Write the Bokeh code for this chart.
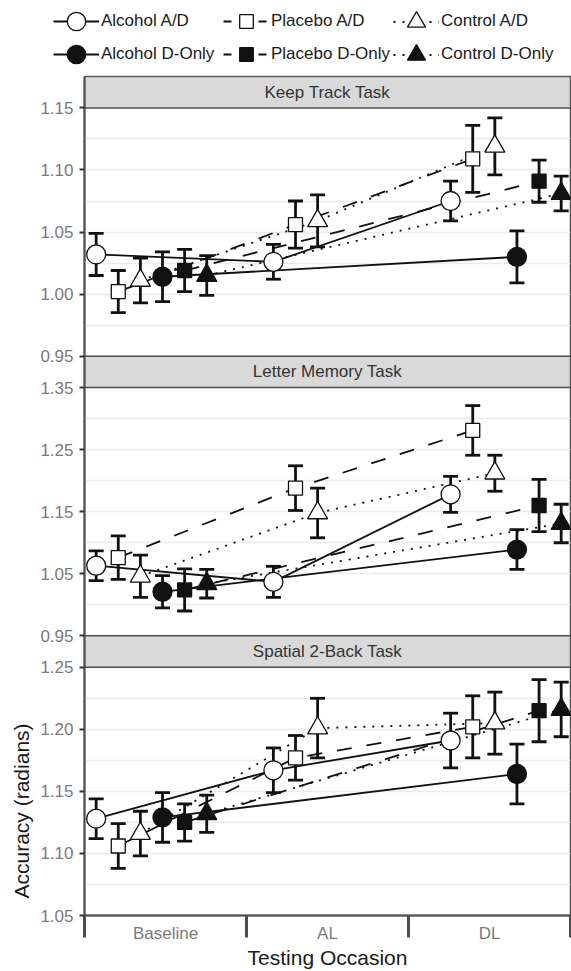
from bokeh.plotting import figure
from bokeh.models import (Range1d, LinearAxis, FixedTicker, Grid, Label, Legend,
                          LegendItem, Title)
from bokeh.embed import file_html
from bokeh.resources import INLINE

# ---------------- data ----------------
occasions = ["Baseline", "AL", "DL"]
groups = ["Alcohol A/D", "Placebo A/D", "Control A/D",
          "Alcohol D-Only", "Placebo D-Only", "Control D-Only"]
tasks = ["Keep Track Task", "Letter Memory Task", "Spatial 2-Back Task"]

# means per group at Baseline, AL, DL (None = not tested)
keep_track_mean = [
    [1.032, 1.026, 1.075],
    [1.002, 1.056, 1.109],
    [1.011, 1.059, 1.119],
    [1.014, None, 1.030],
    [1.019, None, 1.091],
    [1.015, None, 1.081],
]
keep_track_err = [
    [0.017, 0.014, 0.016],
    [0.017, 0.019, 0.027],
    [0.018, 0.021, 0.023],
    [0.020, None, 0.021],
    [0.017, None, 0.017],
    [0.016, None, 0.014],
]
letter_memory_mean = [
    [1.063, 1.037, 1.178],
    [1.076, 1.188, 1.281],
    [1.046, 1.148, 1.212],
    [1.021, None, 1.089],
    [1.024, None, 1.160],
    [1.034, None, 1.131],
]
letter_memory_err = [
    [0.024, 0.025, 0.029],
    [0.035, 0.036, 0.040],
    [0.034, 0.040, 0.029],
    [0.026, None, 0.032],
    [0.034, None, 0.042],
    [0.023, None, 0.031],
]
spatial_mean = [
    [1.128, 1.167, 1.191],
    [1.106, 1.177, 1.202],
    [1.116, 1.201, 1.205],
    [1.129, None, 1.164],
    [1.125, None, 1.215],
    [1.132, None, 1.216],
]
spatial_err = [
    [0.016, 0.018, 0.022],
    [0.018, 0.018, 0.025],
    [0.018, 0.024, 0.025],
    [0.020, None, 0.024],
    [0.015, None, 0.025],
    [0.015, None, 0.022],
]
task_means = [keep_track_mean, letter_memory_mean, spatial_mean]
task_errs = [keep_track_err, letter_memory_err, spatial_err]

y_limits = [(0.95, 1.15), (0.95, 1.35), (1.05, 1.25)]
y_tick_labels = [["0.95", "1.00", "1.05", "1.10", "1.15"],
                 ["0.95", "1.05", "1.15", "1.25", "1.35"],
                 ["1.05", "1.10", "1.15", "1.20", "1.25"]]

# ---------------- styles / layout ----------------
INK = "#111111"
FONT = "Liberation Sans"
markers = ["circle", "square", "triangle", "circle", "square", "triangle"]
marker_size = {"circle": 19, "square": 14, "triangle": 20}
fills = ["white", "white", "white", INK, INK, INK]
dashes = ["solid", "15 15", "2 7", "solid", "15 15", "2 7"]
key_dashes = ["solid", "8 27", "2 7", "solid", "8 27", "2 7"]
LW, EW = 1.8, 2.8

X0, OCC_STEP, GROUP_STEP = 0.572, 1.094, 0.1365   # dodge of points


def group_xy(means, errs, g):
    xs, ys, es = [], [], []
    for i in range(3):
        if means[g][i] is not None:
            xs.append(X0 + OCC_STEP * i + GROUP_STEP * g)
            ys.append(means[g][i])
            es.append(errs[g][i])
    return xs, ys, es


W = 571
LEG_H = 75
H = 971 - LEG_H
BL, BR, BT, BB = 84, 1, 1, 54
FH = H - BT - BB
STRIP = 31.5
PANEL = (FH - 3 * STRIP) / 3

p = figure(width=W, height=H, output_backend="svg", toolbar_location=None,
           x_range=Range1d(0.5, 3.5), y_range=Range1d(0, FH),
           x_axis_type=None, y_axis_type=None,
           min_border_left=BL, min_border_right=BR,
           min_border_top=BT, min_border_bottom=BB,
           outline_line_color="#4d4d4d", outline_line_width=1.5,
           background_fill_color="white", border_fill_color="white")

ranges = {}
tick_pos, tick_over = [], {}
panel_bottoms = []
for k in range(3):
    lo, hi = y_limits[k]
    a = (2 - k) * (PANEL + STRIP)
    panel_bottoms.append(a)
    s = (hi - lo) / PANEL
    ranges[f"p{k}"] = Range1d(lo - a * s, hi + (FH - a - PANEL) * s)
    for lab in y_tick_labels[k]:
        pos = round(a + (float(lab) - lo) / s, 4)
        tick_pos.append(pos)
        tick_over[pos] = lab
p.extra_y_ranges = ranges

# grid lines per panel (library scales)
for k in range(3):
    vals = [float(v) for v in y_tick_labels[k]]
    half = (vals[1] - vals[0]) / 2
    gvals = [round(vals[0] + half * i, 4) for i in range(9)]
    g = Grid(dimension=1, ticker=FixedTicker(ticks=gvals), y_range_name=f"p{k}",
             grid_line_color="#ebebeb", grid_line_width=1.6)
    p.add_layout(g)

# strips
for k in range(3):
    top = panel_bottoms[k] + PANEL
    p.quad(left=0.5, right=3.5, bottom=top, top=top + STRIP,
           fill_color="#d9d9d9", line_color="#4d4d4d", line_width=1.5)
    p.add_layout(Label(x=2.0, y=top + STRIP / 2, text=tasks[k],
                       text_align="center", text_baseline="middle",
                       text_font=FONT, text_font_size="17px", text_color="#333333"))

# data
for k in range(3):
    rn = f"p{k}"
    means, errs = task_means[k], task_errs[k]
    series = [group_xy(means, errs, g) for g in range(6)]
    for g in range(6):
        xs, ys, es = series[g]
        p.line(xs, ys, line_color=INK, line_width=LW, line_dash=dashes[g],
               y_range_name=rn)
    for g in range(6):
        xs, ys, es = series[g]
        lows = [y - e for y, e in zip(ys, es)]
        highs = [y + e for y, e in zip(ys, es)]
        p.segment(x0=xs, y0=lows, x1=xs, y1=highs, line_color=INK, line_width=EW,
                  y_range_name=rn)
        p.scatter(xs, lows, marker="dash", size=15, line_color=INK, line_width=EW,
                  y_range_name=rn)
        p.scatter(xs, highs, marker="dash", size=15, line_color=INK, line_width=EW,
                  y_range_name=rn)
    for g in range(6):
        xs, ys, es = series[g]
        p.scatter(xs, ys, marker=markers[g], size=marker_size[markers[g]],
                  fill_color=fills[g], line_color=INK, line_width=1.3,
                  y_range_name=rn)

# y axis (single axis on layout coordinates, labels per panel)
yaxis = LinearAxis(ticker=FixedTicker(ticks=tick_pos, minor_ticks=[]),
                   major_label_overrides=tick_over,
                   axis_line_color="#4d4d4d", axis_line_width=2,
                   major_tick_line_color="#333333", major_tick_line_width=2,
                   major_tick_out=5, major_tick_in=0,
                   minor_tick_line_color=None,
                   major_label_standoff=6,
                   major_label_text_font=FONT, major_label_text_font_size="17px",
                   major_label_text_color="#7a7a7a")
p.add_layout(yaxis, "left")
p.add_layout(Title(text="Accuracy (radians)", align="left", offset=17, standoff=10,
                   text_font=FONT, text_font_size="21px", text_font_style="normal",
                   text_color="#1a1a1a"), "left")

xaxis = LinearAxis(ticker=FixedTicker(ticks=[1, 2, 3], minor_ticks=[0.5, 1.5, 2.5, 3.5]),
                   major_label_overrides={1: occasions[0], 2: occasions[1], 3: occasions[2]},
                   axis_line_color="#4d4d4d", axis_line_width=2,
                   major_tick_line_color=None, major_tick_out=0, major_tick_in=0,
                   minor_tick_line_color="#4d4d4d", minor_tick_line_width=3,
                   minor_tick_out=22, minor_tick_in=0,
                   major_label_standoff=-14,
                   major_label_text_font=FONT, major_label_text_font_size="17px",
                   major_label_text_color="#7a7a7a",
                   axis_label="Testing Occasion", axis_label_standoff=0,
                   axis_label_text_font=FONT, axis_label_text_font_size="21px",
                   axis_label_text_font_style="normal", axis_label_text_color="#1a1a1a")
p.add_layout(xaxis, "below")

# ---------------- legend (own strip above the panels) ----------------
lp = figure(width=W, height=LEG_H, output_backend="svg", toolbar_location=None,
            x_range=Range1d(0, 1), y_range=Range1d(0, 1),
            x_axis_type=None, y_axis_type=None,
            min_border_left=0, min_border_right=0, min_border_top=0, min_border_bottom=0,
            outline_line_color=None, background_fill_color="white",
            border_fill_color="white")
key_centers = [76, 246, 416]          # px from left
row_centers = [LEG_H - 21, LEG_H - 54]  # px from bottom
glyph_h = {"circle": 46, "square": 34, "triangle": 45}
for g in range(6):
    xs, ys, es = group_xy(keep_track_mean, keep_track_err, g)
    lr = lp.line(xs, ys, line_color=INK, line_width=LW, line_dash=key_dashes[g],
                 visible=False)
    mr = lp.scatter(xs, ys, marker=markers[g], fill_color=fills[g],
                    line_color=INK, line_width=1.3, visible=False)
    gh = glyph_h[markers[g]]
    row, col = g // 3, g % 3
    leg = Legend(items=[LegendItem(label=groups[g], renderers=[lr, mr])],
                 location=(key_centers[col] - 23, row_centers[row] - gh / 2),
                 orientation="horizontal", glyph_width=46, glyph_height=gh,
                 label_standoff=2, padding=0, margin=0, spacing=0,
                 border_line_color=None, background_fill_alpha=0,
                 inactive_fill_alpha=0,
                 label_text_font=FONT, label_text_font_size="17px",
                 label_text_color="#1a1a1a")
    lp.add_layout(leg)

open("out.html", "w").write(file_html([lp, p], INLINE))
